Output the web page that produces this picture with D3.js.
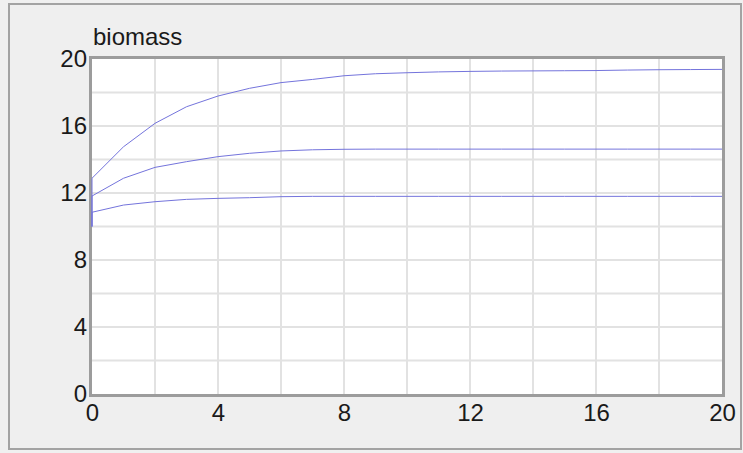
<!DOCTYPE html>
<html lang="en">
<head>
<meta charset="UTF-8">
<title>biomass</title>
<script src="https://d3js.org/d3.v7.min.js"></script>
<style>
  body { margin: 0; background: #f0f0f0; }
  svg { display: block; font-family: "Liberation Sans", Arial, sans-serif; }
  .tick text { font-size: 24px; fill: #1a1a1a; }
</style>
</head>
<body>
<svg width="743" height="453"></svg>
<script>
// time steps and biomass of the three runs (all start at 10)
var times = d3.range(0, 21);
var startValue = 10;
var upper  = [12.88, 14.76, 16.16, 17.15, 17.79, 18.25, 18.59, 18.78, 19.0, 19.12, 19.18, 19.23, 19.26, 19.28, 19.29, 19.30, 19.31, 19.34, 19.36, 19.37, 19.38];
var middle = [11.82, 12.88, 13.53, 13.87, 14.17, 14.37, 14.51, 14.58, 14.61, 14.62, 14.62, 14.62, 14.62, 14.62, 14.62, 14.62, 14.62, 14.62, 14.62, 14.62, 14.62];
var lower  = [10.85, 11.28, 11.48, 11.62, 11.68, 11.72, 11.78, 11.80, 11.80, 11.80, 11.80, 11.80, 11.80, 11.80, 11.80, 11.80, 11.80, 11.80, 11.80, 11.80, 11.80];
var series = [upper, middle, lower];

var xTicks = [0, 4, 8, 12, 16, 20];
var yTicks = [0, 4, 8, 12, 16, 20];
var gridStep = d3.range(0, 21, 2);

var svg = d3.select('svg');

// outer panel frame
svg.append('rect')
    .attr('x', 9).attr('y', 4)
    .attr('width', 732).attr('height', 445)
    .attr('fill', '#efefef')
    .attr('stroke', '#a3a3a3')
    .attr('stroke-width', 2);

var plotLeft = 92, plotRight = 722, plotTop = 59, plotBottom = 394;

var x = d3.scaleLinear().domain([0, 20]).range([plotLeft, plotRight]);
var y = d3.scaleLinear().domain([0, 20]).range([plotBottom, plotTop]);

svg.append('rect')
    .attr('x', plotLeft).attr('y', plotTop)
    .attr('width', plotRight - plotLeft).attr('height', plotBottom - plotTop)
    .attr('fill', '#fff');

// grid
svg.append('g').selectAll('line')
    .data(gridStep.slice(1, -1)).enter().append('line')
    .attr('x1', d => x(d)).attr('x2', d => x(d))
    .attr('y1', plotTop).attr('y2', plotBottom)
    .attr('stroke', '#e2e2e2').attr('stroke-width', 2);
svg.append('g').selectAll('line')
    .data(gridStep.slice(1, -1)).enter().append('line')
    .attr('y1', d => y(d)).attr('y2', d => y(d))
    .attr('x1', plotLeft).attr('x2', plotRight)
    .attr('stroke', '#e2e2e2').attr('stroke-width', 2);

// plot frame (sits just outside the data area)
svg.append('rect')
    .attr('x', plotLeft - 1.5).attr('y', plotTop - 1.5)
    .attr('width', plotRight - plotLeft + 3).attr('height', plotBottom - plotTop + 3)
    .attr('fill', 'none')
    .attr('stroke', '#9c9c9c')
    .attr('stroke-width', 3);

// curves
var line = d3.line()
    .x(d => x(d[0]))
    .y(d => y(d[1]));

svg.append('g').selectAll('path')
    .data(series).enter().append('path')
    .attr('d', s => line([[0, startValue]].concat(s.map((v, i) => [times[i], v]))))
    .attr('fill', 'none')
    .attr('stroke', '#7474dc')
    .attr('stroke-width', 1);

// axes labels
var xAxis = svg.append('g')
    .attr('transform', 'translate(0,' + plotBottom + ')')
    .call(d3.axisBottom(x).tickValues(xTicks).tickSize(0).tickPadding(10));
var yAxis = svg.append('g')
    .attr('transform', 'translate(' + plotLeft + ',0)')
    .call(d3.axisLeft(y).tickValues(yTicks).tickSize(0).tickPadding(5));
xAxis.select('.domain').remove();
yAxis.select('.domain').remove();
svg.selectAll('.tick text').attr('font-family', null).attr('font-size', null);

svg.append('text')
    .attr('x', plotLeft + 1).attr('y', 45)
    .attr('font-size', 24)
    .attr('fill', '#1a1a1a')
    .text('biomass');
</script>
</body>
</html>
